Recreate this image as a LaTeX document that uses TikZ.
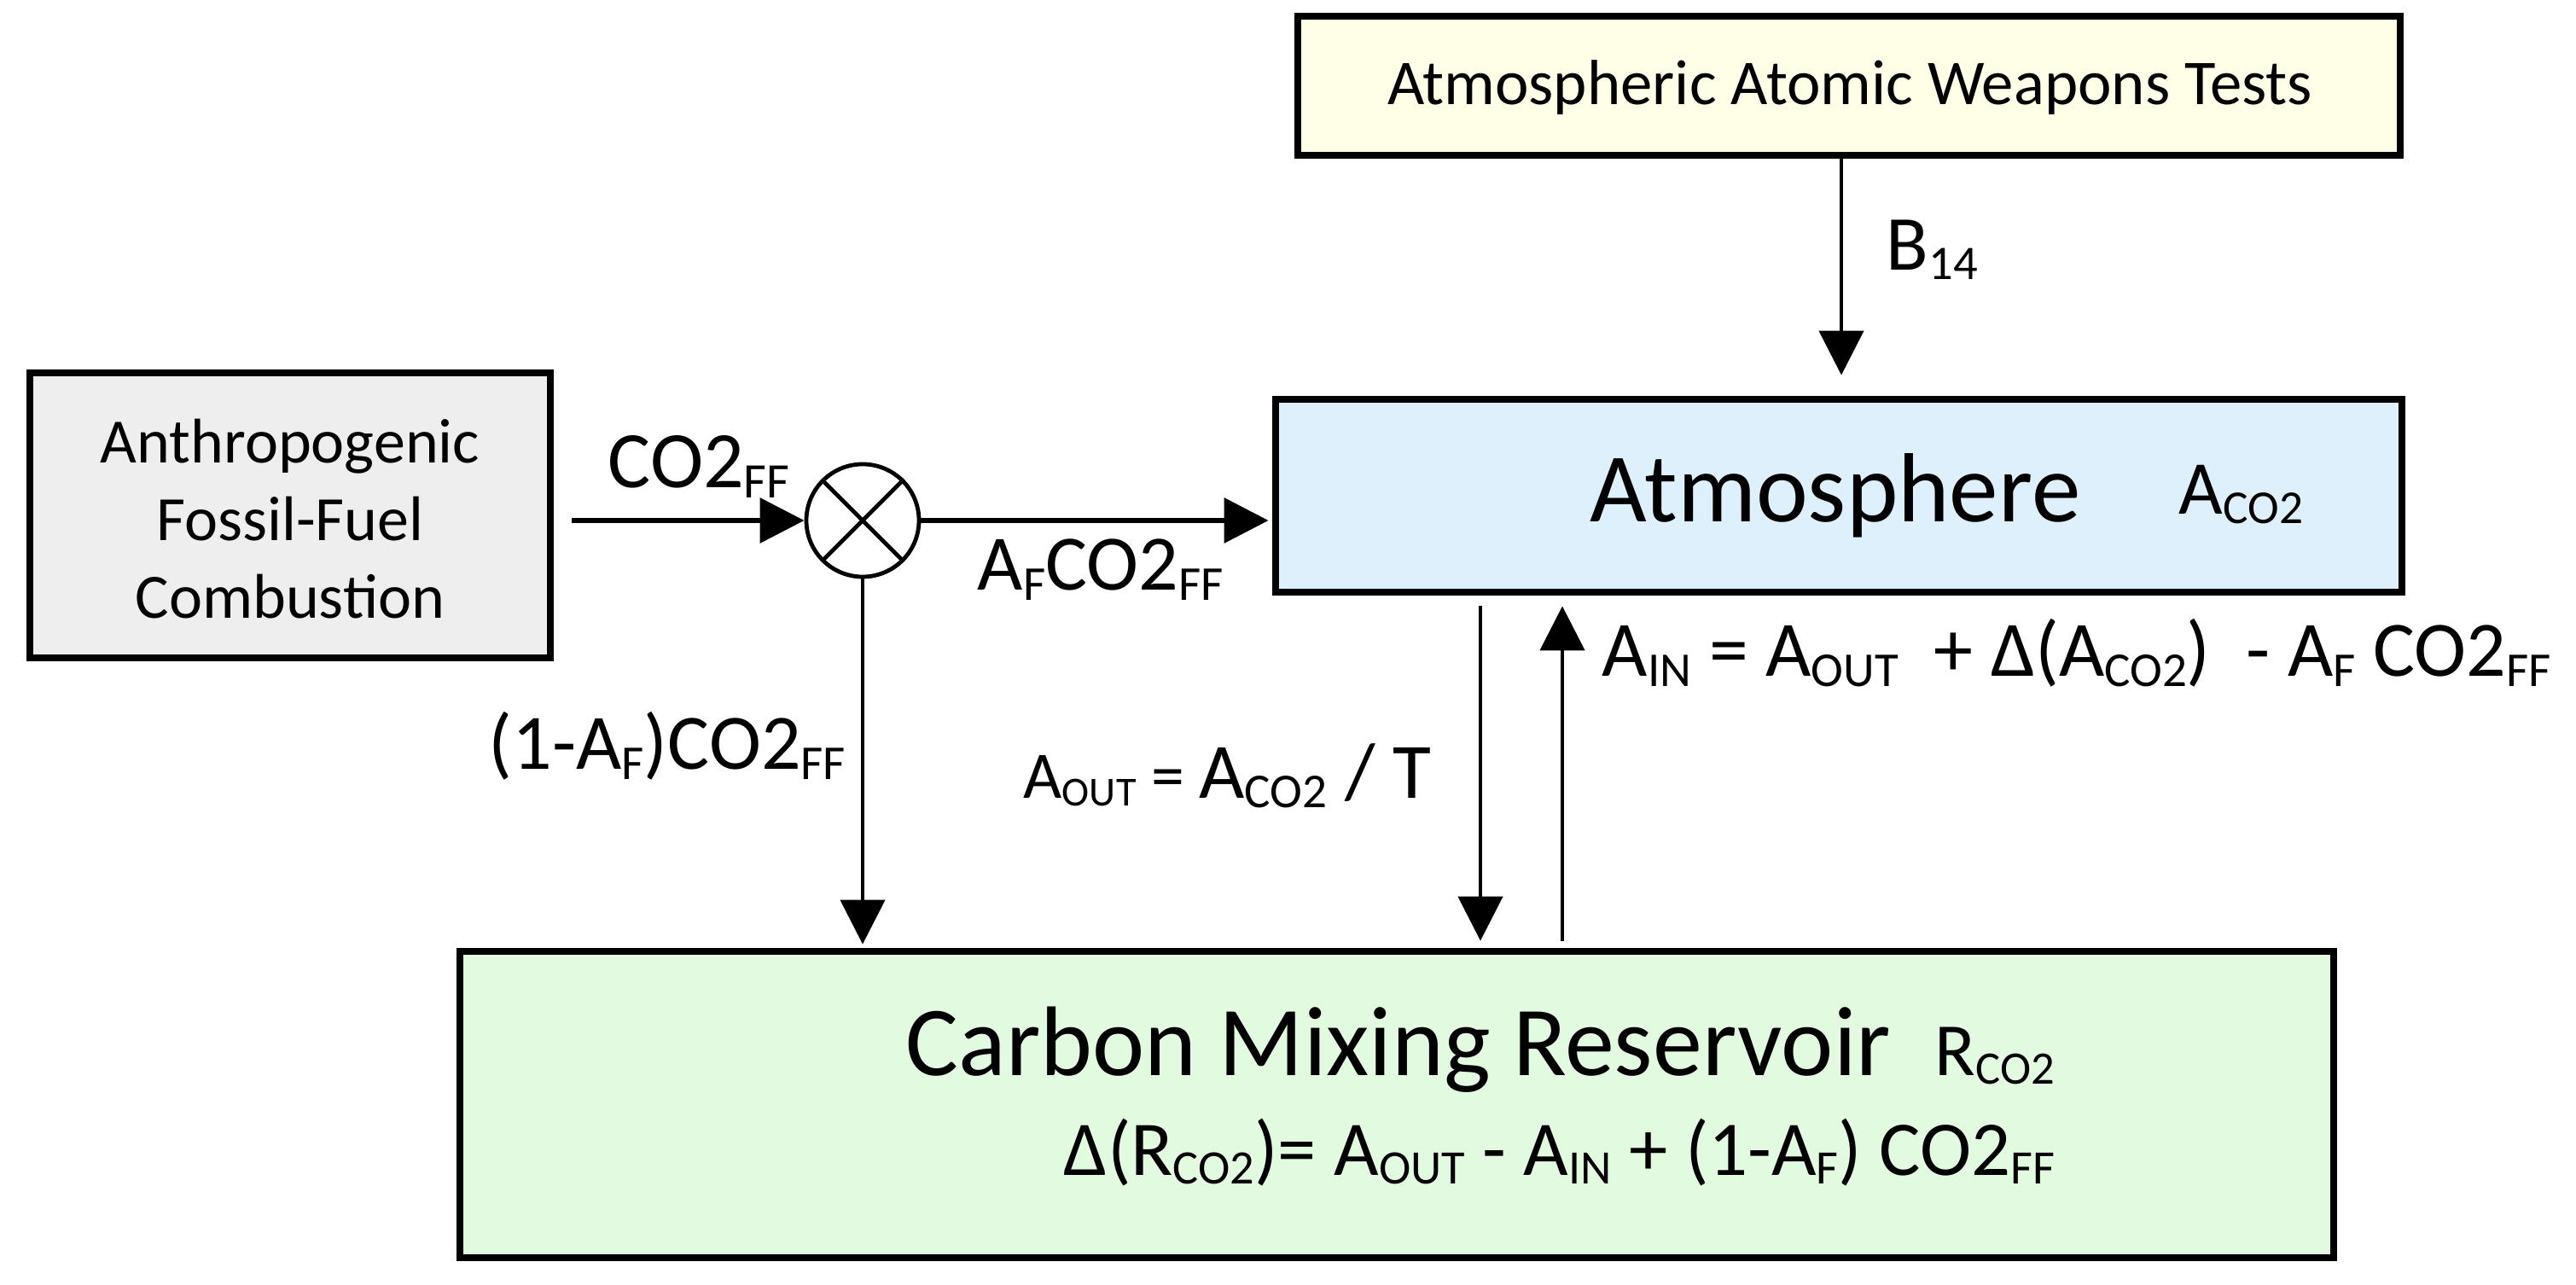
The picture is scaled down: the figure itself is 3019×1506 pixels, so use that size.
\documentclass[tikz,border=0pt]{standalone}
\usepackage{fontspec}
\setmainfont{Carlito}
\usetikzlibrary{arrows.meta,calc}
\makeatletter
\newcommand\lo[1]{\raisebox{-0.12em}{\fontsize{\fpeval{0.62*\f@size}}{\fpeval{0.62*\f@size}}\selectfont #1}}
\makeatother
\newcommand\fs[1]{\fontsize{#1}{#1}\selectfont}
\definecolor{fossilfill}{HTML}{EEEEEE}
\definecolor{weapfill}{HTML}{FFFFE8}
\definecolor{atmfill}{HTML}{DDF0FB}
\definecolor{resfill}{HTML}{E2FBE0}
\begin{document}
\begin{tikzpicture}[x=0.25pt,y=-0.25pt,
  box/.style={draw=black, line width=2.2pt, inner sep=0pt, rectangle},
  lbl/.style={inner sep=0pt, anchor=base west},
  flow/.style={-{Triangle[length=13pt,width=13pt]}, line width=1.1pt},
  hflow/.style={flow, line width=1.6pt}]
\useasboundingbox (0,0) rectangle (3019,1506);
% boxes
\node[box, fill=fossilfill, minimum width=152.5pt, minimum height=83.5pt] (fossil) at (340,604) {};
\node[box, fill=weapfill, minimum width=323pt, minimum height=40.75pt] (weap) at (2167,100.5) {};
\node[box, fill=atmfill, minimum width=330pt, minimum height=56.5pt] (atm) at (2155,581) {};
\node[box, fill=resfill, minimum width=549pt, minimum height=89.75pt] (res) at (1637,1294.5) {};
% multiplier
\node[draw, circle, line width=1.2pt, minimum size=33pt, inner sep=0pt, fill=white] (mul) at (1011,610) {};
\draw[line width=1.2pt] (mul.north west) -- (mul.south east) (mul.north east) -- (mul.south west);
% box texts
\node[inner sep=0pt, anchor=base, font=\fs{18.7}] (wtxt) at (2168,123) {Atmospheric Atomic Weapons Tests};
\node[inner sep=0pt, anchor=base, font=\fontsize{18.5}{22.75}\selectfont] (ftxt) at (340,543)
  {\begin{tabular}[t]{@{}c@{}}Anthropogenic\\Fossil-Fuel\\Combustion\end{tabular}};
\node[lbl, font=\fs{28.8}] (latm) at (1863,612) {Atmosphere};
\node[lbl, font=\fs{22.3}] (laco2) at (2553,603) {A\lo{CO2}};
\node[lbl, font=\fs{29}] (lres) at (1061,1260) {Carbon Mixing Reservoir};
\node[lbl, font=\fs{22}] (lrco2) at (2267,1260) {R\lo{CO2}};
\node[lbl, font=\fs{22.7}] (ldr) at (1246,1377) {Δ(R\lo{CO2})= A\lo{OUT} - A\lo{IN} + (1-A\lo{F}) CO2\lo{FF}};
% connectors
\coordinate (fin) at (670,610);
\coordinate (bx) at (2158,0);
\coordinate (xo) at (1735,0);
\coordinate (xi) at (1831,0);
\draw[hflow] (fin) -- (mul.west);
\draw[hflow, shorten >=1pt] (mul.east) -- (mul.east -| atm.west);
\draw[flow, shorten >=1pt] (mul.south) -- (mul.south |- res.north);
\draw[flow, shorten >=6pt] (weap.south -| bx) -- (atm.north -| bx);
\draw[flow, shorten <=3pt, shorten >=2pt] (atm.south -| xo) -- (res.north -| xo);
\draw[flow, shorten <=2pt, shorten >=3pt] (res.north -| xi) -- (atm.south -| xi);
% connector labels
\node[lbl, font=\fs{23.5}] (lco2) at (712,572) {CO2\lo{FF}};
\node[lbl, font=\fs{23}] (laf) at (1145,692) {A\lo{F}CO2\lo{FF}};
\node[lbl, font=\fs{23}] (l1af) at (572,902) {(1-A\lo{F})CO2\lo{FF}};
\node[lbl] (laout) at (1199,935) {\fs{19.5}A\lo{OUT} = \fs{23}A\lo{CO2} / T};
\node[lbl, font=\fs{23}] (lain) at (1877,793) {A\lo{IN} = A\lo{OUT}\ \ + Δ(A\lo{CO2})\ \ - A\lo{F} CO2\lo{FF}};
\node[lbl, font=\fs{22.8}] (lb14) at (2210,317) {B\lo{14}};
\end{tikzpicture}
\end{document}
